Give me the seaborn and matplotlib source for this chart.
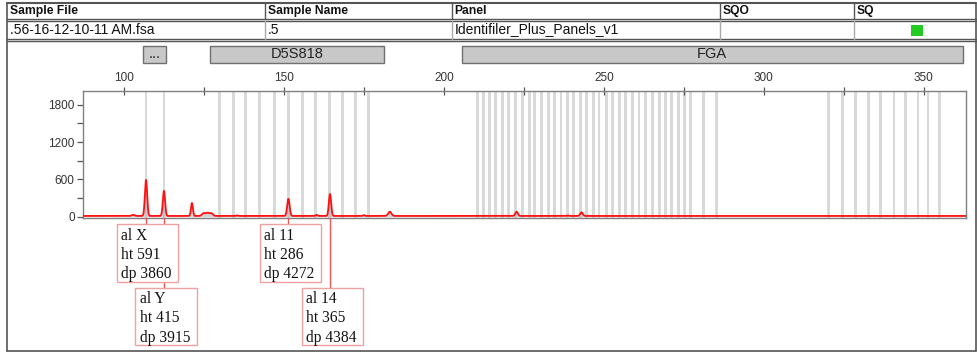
import numpy as np
import pandas as pd
import matplotlib
matplotlib.use("Agg")
import matplotlib.pyplot as plt
import matplotlib.transforms as mtransforms
from matplotlib.patches import Rectangle
from matplotlib.lines import Line2D
import seaborn as sns

# ---------------- data ----------------
header_cols = ["Sample File", "Sample Name", "Panel", "SQO", "SQ"]
row_values = [".56-16-12-10-11 AM.fsa", ".5", "Identifiler_Plus_Panels_v1", "", ""]

marker_names = ["...", "D5S818", "FGA"]
marker_start = [105.9, 127.0, 205.6]
marker_end = [113.2, 181.2, 362.2]

bin_sizes = [106.9, 112.5,
             130.0, 134.2, 138.1, 142.5, 147.1, 151.4, 155.8, 160.0, 164.2, 168.3, 172.3, 176.4,
             210.4, 212.3, 214.2, 216.25, 218.2, 220.3, 222.4, 224.5, 226.7, 228.4, 230.5,
             232.6, 234.5, 236.6, 238.5, 240.6, 242.7, 244.6, 246.7, 248.5, 250.8, 252.7,
             254.8, 256.9, 259.0, 261.0, 263.1, 265.2, 267.3, 269.4, 271.2, 273.2, 275.1,
             277.2, 281.25, 285.2,
             320.1, 324.5, 328.7, 332.8, 336.6, 340.7, 344.4, 348.2, 351.3, 355.0]

peak_sizes = [102.9, 106.9, 112.5, 121.25, 124.9, 126.1, 127.3, 135.4, 151.4, 160.2,
              164.4, 175.0, 183.1, 222.7, 238.75, 243.0]
peak_heights = [30, 591, 415, 220, 55, 60, 55, 20, 286, 30, 365, 25, 80, 80, 20, 70]
peak_widths = [0.45, 0.35, 0.35, 0.3, 0.5, 0.5, 0.5, 0.3, 0.38, 0.3, 0.35, 0.3, 0.5, 0.4, 0.3, 0.4]
baseline = 12

ann_sizes = [106.9, 112.5, 151.4, 164.4]
ann_alleles = ["X", "Y", "11", "14"]
ann_heights = [591, 415, 286, 365]
ann_dp = [3860, 3915, 4272, 4384]
# box layout (pixels)
ann_box_left = [116.7, 135.0, 260.0, 301.7]
ann_box_top = [224.3, 287.7, 224.3, 287.7]
BOX_W, BOX_H = 61.5, 57.5

x_major = [100, 150, 200, 250, 300, 350]
x_minor = [125, 175, 225, 275, 325]
y_major = [0, 600, 1200, 1800]
y_minor = [300, 900, 1500]

# ---------------- figure ----------------
sns.set_style("white")
plt.rcParams["font.family"] = ["Liberation Sans", "DejaVu Sans"]

W, H = 978, 354
fig = plt.figure(figsize=(W / 100, H / 100), dpi=100)
fig.patch.set_facecolor("white")

def fx(px):
    return px / W

def fy(py):
    return 1 - py / H

ax = fig.add_axes([fx(83), fy(218), fx(965.7) - fx(83), fy(91) - fy(218)])

# trace built from the peak list
xs = np.arange(87.0, 363.2, 0.05)
ys = np.full_like(xs, baseline, dtype=float)
for c, h, w in zip(peak_sizes, peak_heights, peak_widths):
    ys += (h - baseline if h > baseline else h) * np.exp(-0.5 * ((xs - c) / w) ** 2)
trace = pd.DataFrame({"size": xs, "rfu": ys})

for c in bin_sizes:
    ax.axvspan(c - 0.45, c + 0.45, color="#d9d9d9", lw=0, zorder=0)

ax.fill_between(trace["size"], 0, trace["rfu"], color="#b4b4bc", alpha=0.6, lw=0, zorder=1)
sns.lineplot(data=trace, x="size", y="rfu", ax=ax, color="#ff1010", lw=1.3,
             estimator=None, sort=False, zorder=3)

ax.set_xlim(87.2, 363.1)
ax.set_ylim(-21, 2020)
ax.set_xlabel("")
ax.set_ylabel("")
ax.xaxis.tick_top()
ax.set_xticks(x_major)
ax.set_xticks(x_minor, minor=True)
ax.set_yticks(y_major)
ax.set_yticks(y_minor, minor=True)
ax.tick_params(axis="x", which="both", direction="inout", length=6, width=0.9,
               color="#555555", labelsize=8.5, labelcolor="#333333", pad=2,
               top=True, bottom=False)
ax.tick_params(axis="y", which="both", direction="out", length=4, width=0.9,
               color="#555555", labelsize=8.5, labelcolor="#333333", pad=2, left=True)
for s in ax.spines.values():
    s.set_color("#808080")
    s.set_linewidth(1.0)

# ---------------- header table ----------------
col_x = [7, 265, 451.7, 719.7, 853.7, 976]
dark = "#555555"
fig.add_artist(Line2D([fx(7), fx(976)], [fy(3), fy(3)], color=dark, lw=1.5))
for yy in (18.5, 20.5, 38.5, 40.5):
    fig.add_artist(Line2D([fx(7), fx(976)], [fy(yy), fy(yy)], color=dark, lw=1.0))
for cx in col_x[1:-1]:
    fig.add_artist(Line2D([fx(cx), fx(cx)], [fy(3), fy(18.5)], color=dark, lw=1.0))
    fig.add_artist(Line2D([fx(cx), fx(cx)], [fy(20.5), fy(38.5)], color="#aaaaaa", lw=1.0))
fig.add_artist(Line2D([fx(7), fx(7)], [fy(3), fy(351)], color=dark, lw=1.2))
fig.add_artist(Line2D([fx(976), fx(976)], [fy(3), fy(351)], color=dark, lw=1.2))
fig.add_artist(Line2D([fx(7), fx(976)], [fy(351), fy(351)], color=dark, lw=1.2))

for i, name in enumerate(header_cols):
    fig.text(fx(col_x[i] + 3), fy(11), name, fontsize=8.7, fontweight="bold",
             ha="left", va="center", color="#111111")
for i, val in enumerate(row_values):
    if val:
        fig.text(fx(col_x[i] + 3), fy(29.5), val, fontsize=10,
                 ha="left", va="center", color="#111111")
fig.add_artist(Rectangle((fx(910.7), fy(36)), fx(12.3), fy(25) - fy(36),
                         facecolor="#22cc22", edgecolor="none"))

# ---------------- marker bars ----------------
blend = mtransforms.blended_transform_factory(ax.transData, fig.transFigure)
for name, s0, s1 in zip(marker_names, marker_start, marker_end):
    r = Rectangle((s0, fy(63.3)), s1 - s0, fy(45.7) - fy(63.3), transform=blend,
                  facecolor="#c8c8c8", edgecolor="#707070", lw=1.0, clip_on=False)
    fig.add_artist(r)
    fig.text((s0 + s1) / 2, fy(54.5), name, transform=blend, fontsize=10.5,
             ha="center", va="center", color="#222222")

# ---------------- allele call boxes ----------------
for i, (sz, al, ht, dp) in enumerate(zip(ann_sizes, ann_alleles, ann_heights, ann_dp)):
    fig.add_artist(Line2D([sz, sz], [fy(218), fy(ann_box_top[i])], transform=blend,
                          color="#ee5555", lw=1.0, zorder=2))
for i, (sz, al, ht, dp) in enumerate(zip(ann_sizes, ann_alleles, ann_heights, ann_dp)):
    l, t = ann_box_left[i], ann_box_top[i]
    fig.add_artist(Rectangle((fx(l), fy(t + BOX_H)), fx(BOX_W), fy(t) - fy(t + BOX_H),
                             facecolor="white", edgecolor="#f0a0a0", lw=1.0, zorder=3))
    fig.text(fx(l + 4.5), fy(t + 3.5), f"al {al}\nht {ht}\ndp {dp}",
             fontfamily=["Liberation Serif", "DejaVu Serif"], fontsize=11.2,
             ha="left", va="top", linespacing=1.27, color="#111111", zorder=4)

fig.savefig("out.png", dpi=100, facecolor="white")
